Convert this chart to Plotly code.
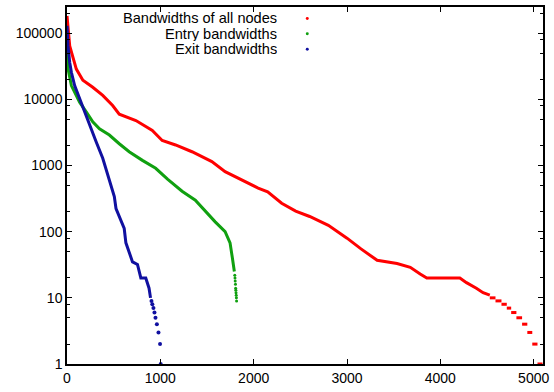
import plotly.graph_objects as go

# ---- data ----
# Bandwidths of all nodes: main curve (rank, bandwidth)
all_rank = [0, 29, 100, 170, 276, 383, 489, 560, 738, 914, 1020, 1163, 1339, 1552,
            1694, 1907, 2048, 2150, 2300, 2450, 2600, 2800, 3000, 3150, 3323, 3536,
            3678, 3784, 3855, 4209, 4280, 4386, 4458, 4530]
all_bw = [183000, 64500, 28800, 19500, 15300, 11500, 8100, 6000, 4800, 3400, 2400,
          2050, 1620, 1150, 810, 575, 457, 400, 270, 205, 170, 125, 80, 55, 37, 33,
          29, 23, 20, 20, 17, 14, 12, 11]
# tail of all nodes: runs of equal bandwidth (start rank, end rank, value)
all_tail_start = [4530, 4591, 4655, 4712, 4759, 4815, 4876, 4932, 4985, 5041]
all_tail_end = [4591, 4655, 4712, 4759, 4815, 4876, 4932, 4985, 5041, 5095]
all_tail_bw = [10, 9, 8, 7, 6, 5, 4, 3, 2, 1]

# Entry bandwidths
entry_rank = [0, 11, 47, 82, 135, 206, 276, 348, 454, 560, 666, 808, 950, 1080,
              1233, 1375, 1482, 1588, 1694, 1747, 1772, 1793]
entry_bw = [57000, 29000, 16200, 12900, 9100, 6500, 4600, 3600, 2900, 2140, 1620,
            1200, 910, 620, 410, 300, 204, 141, 100, 68, 40, 25]
entry_tail_rank = [1798, 1800, 1802, 1805, 1807, 1809, 1811, 1813, 1815, 1817]
entry_tail_bw = [22, 20, 18, 16, 14, 13, 12, 11, 10, 9]

# Exit bandwidths
exit_rank = [0, 11, 29, 47, 82, 135, 188, 241, 312, 383, 454, 507, 525, 578, 613,
             631, 666, 702, 755, 791, 844, 879, 895]
exit_bw = [130000, 64500, 36300, 25700, 16200, 10200, 6500, 4100, 2300, 1290, 620,
           340, 224, 151, 112, 68, 48, 35, 32, 20, 20, 14, 10]
exit_tail_rank = [905, 914, 926, 937, 948, 963, 980, 997, 1004]
exit_tail_bw = [9, 8, 7, 6, 5, 4, 3, 2, 1]

x_ticks = [0, 1000, 2000, 3000, 4000, 5000]
y_ticks = [1, 10, 100, 1000, 10000, 100000]
y_minor = [m * d for d in [1, 10, 100, 1000, 10000, 100000] for m in (2, 5, 8)]

legend_names = ["Bandwidths of all nodes", "Entry bandwidths", "Exit bandwidths"]

RED = "#ff0000"
GREEN = "#10a010"
BLUE = "#1010a0"
colors = [RED, GREEN, BLUE]

fig = go.Figure()

fig.add_trace(go.Scatter(x=all_rank, y=all_bw, mode="lines",
                         line=dict(color=RED, width=3), showlegend=False))
tx, ty = [], []
for s, e, v in zip(all_tail_start, all_tail_end, all_tail_bw):
    tx += [s, e, None]
    ty += [v, v, None]
fig.add_trace(go.Scatter(x=tx, y=ty, mode="lines", cliponaxis=False,
                         line=dict(color=RED, width=3), showlegend=False))

fig.add_trace(go.Scatter(x=entry_rank, y=entry_bw, mode="lines",
                         line=dict(color=GREEN, width=3), showlegend=False))
fig.add_trace(go.Scatter(x=entry_tail_rank, y=entry_tail_bw, mode="markers",
                         marker=dict(color=GREEN, size=3), showlegend=False))

fig.add_trace(go.Scatter(x=exit_rank, y=exit_bw, mode="lines",
                         line=dict(color=BLUE, width=3), showlegend=False))
fig.add_trace(go.Scatter(x=exit_tail_rank, y=exit_tail_bw, mode="markers",
                         cliponaxis=False,
                         marker=dict(color=BLUE, size=4), showlegend=False))

# legend: right-aligned text with a small dot sample to the right
L, R, T, B = 67, 7, 5, 28
W, H = 554, 392
pw, ph = W - L - R, H - T - B
ann = []
shapes = []
row_y = [16.5, 32.0, 47.5]
for name, c, yy in zip(legend_names, colors, row_y):
    py = 1 - (yy - T) / ph
    ann.append(dict(x=(280 - L) / pw, y=py, xref="paper", yref="paper",
                    text=name, showarrow=False, xanchor="right", yanchor="middle",
                    height=14, borderpad=0,
                    font=dict(family="Liberation Sans, Arial", size=14.6, color="#000")))
    cx = (309.3 - L) / pw
    shapes.append(dict(type="circle", xref="paper", yref="paper",
                       x0=cx - 1.5 / pw, x1=cx + 1.5 / pw,
                       y0=py - 1.5 / ph, y1=py + 1.5 / ph,
                       fillcolor=c, line=dict(width=0)))

fig.update_layout(
    width=W, height=H,
    margin=dict(l=L, r=R, t=T, b=B),
    paper_bgcolor="white", plot_bgcolor="white",
    font=dict(family="Liberation Sans, Arial", size=14, color="#000"),
    annotations=ann, shapes=shapes,
    showlegend=False,
)
fig.update_xaxes(range=[0, 5100], tickvals=x_ticks, ticktext=[str(v) for v in x_ticks],
                 ticks="inside", ticklen=5, tickcolor="#000", tickwidth=1,
                 showline=True, linecolor="#000", linewidth=1.5, mirror="allticks",
                 showgrid=False, zeroline=False)
fig.update_yaxes(type="log", range=[0, 5.398], tickvals=y_ticks,
                 ticktext=[str(v) for v in y_ticks],
                 ticks="inside", ticklen=5, tickcolor="#000", tickwidth=1,
                 minor=dict(tickvals=y_minor, ticks="inside", ticklen=3,
                            tickcolor="#000", showgrid=False),
                 showline=True, linecolor="#000", linewidth=1.5, mirror="allticks",
                 showgrid=False, zeroline=False)

fig.write_html("out.html")
